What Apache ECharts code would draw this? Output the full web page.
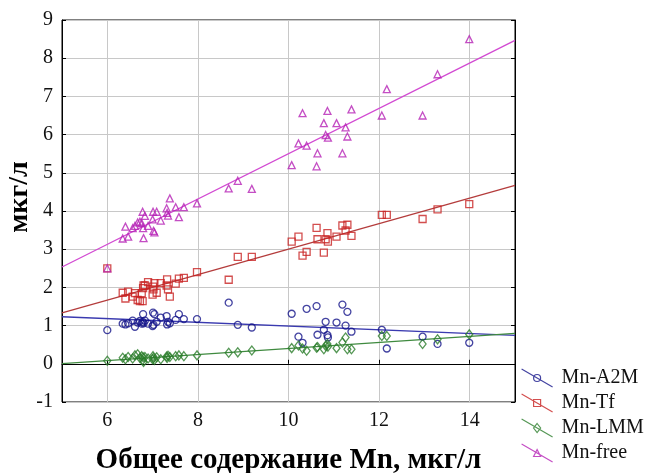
<!DOCTYPE html>
<html><head><meta charset="utf-8">
<script src="https://cdn.jsdelivr.net/npm/echarts@6/dist/echarts.min.js"></script>
<style>html,body{margin:0;padding:0;background:#fff}#c{width:650px;height:473px}</style>
</head><body><div id="c"></div>
<script>
// Total Mn (x), per sample
const totalMn = [6.00,6.34,6.40,6.46,6.56,6.61,6.67,6.72,6.76,6.78,6.79,6.80,6.83,6.90,7.00,7.01,7.02,7.04,7.09,7.18,7.31,7.32,7.34,7.38,7.51,7.58,7.69,7.98,
  8.68,8.88,9.19,10.07,10.22,10.31,10.40,10.62,10.64,10.78,10.82,10.86,10.87,11.06,11.19,11.26,11.30,11.39,12.06,12.17,12.96,13.29,13.99];
const mnA2M = [0.88,1.05,1.03,1.06,1.13,0.97,1.08,1.12,1.05,1.10,1.30,1.06,1.13,1.05,0.99,1.34,1.02,1.30,1.10,1.21,1.25,1.03,1.10,1.06,1.15,1.30,1.17,1.17,
  1.60,1.02,0.95,1.31,0.71,0.55,1.44,1.51,0.76,0.89,1.10,0.75,0.69,1.08,1.55,1.00,1.36,0.84,0.89,0.40,0.71,0.52,0.55];
const mnTf = [2.50,1.86,1.71,1.89,1.76,1.85,1.67,1.64,1.85,1.64,1.98,2.05,2.05,2.14,1.81,2.02,1.95,2.11,1.86,2.11,2.05,2.21,1.95,1.76,2.10,2.23,2.25,2.40,
  2.20,2.80,2.80,3.20,3.33,2.83,2.93,3.56,3.26,2.91,3.26,3.42,3.20,3.33,3.62,3.49,3.64,3.35,3.90,3.90,3.79,4.04,4.18];
const mnLMM = [0.08,0.16,0.12,0.18,0.14,0.22,0.25,0.15,0.20,0.10,0.17,0.05,0.18,0.14,0.12,0.20,0.15,0.10,0.17,0.12,0.19,0.15,0.21,0.18,0.20,0.22,0.20,0.22,
  0.29,0.30,0.35,0.41,0.48,0.40,0.34,0.42,0.44,0.38,0.47,0.52,0.45,0.41,0.56,0.69,0.38,0.38,0.73,0.73,0.52,0.64,0.77];
const mnFree = [2.50,3.28,3.59,3.33,3.55,3.61,3.70,3.72,3.68,3.98,3.55,3.29,3.87,3.61,3.78,3.98,3.48,3.44,3.98,3.75,4.07,3.95,3.88,4.33,4.10,3.84,4.10,4.20,
  4.59,4.79,4.58,5.20,5.77,6.56,5.71,5.17,5.51,6.30,5.99,6.62,5.92,6.30,5.51,6.19,5.95,6.66,6.50,7.19,6.50,7.58,8.50];

const seriesNames = ['Mn-A2M','Mn-Tf','Mn-LMM','Mn-free'];
const xTickValues = [6,8,10,12,14];
const xRange = [5,15];
const yRange = [-1,9];
const xTitle = 'Общее содержание Mn, мкг/л';
const yTitle = 'мкг/л';

const FONT = "'Liberation Serif','Times New Roman',serif";
const ys = [mnA2M, mnTf, mnLMM, mnFree];
const markerColors = ['#14148a','#c82222','#2a7d2a','#b522b5'];
const lineColors = ['#3a3ab0','#b43c3c','#3f8a3f','#d24ad2'];
const symbols = ['circle','rect','diamond','triangle'];
const symSizes = [7,7,[7,9],7];
const iconShapes = [
  'M19,9A3.5,3.5,0,1,1,12,9A3.5,3.5,0,1,1,19,9Z',
  'M12,5.5L19,5.5L19,12.5L12,12.5Z',
  'M15.5,4.5L19,9L15.5,13.5L12,9Z',
  'M15.5,5.5L19,12.5L12,12.5Z'
];

function fit(xs, yv) {
  const n = xs.length;
  let sx=0, sy=0; for (let i=0;i<n;i++){sx+=xs[i];sy+=yv[i];}
  const mx=sx/n, my=sy/n;
  let sxy=0,sxx=0; for (let i=0;i<n;i++){sxy+=(xs[i]-mx)*(yv[i]-my);sxx+=(xs[i]-mx)*(xs[i]-mx);}
  const b=sxy/sxx, a=my-b*mx;
  return [[xRange[0], a+b*xRange[0]],[xRange[1], a+b*xRange[1]]];
}

const series = [];
ys.forEach((yv, k) => {
  series.push({
    name: 'fit ' + seriesNames[k], type: 'line', data: fit(totalMn, yv),
    showSymbol: false, silent: true, z: 2,
    lineStyle: { color: lineColors[k], width: 1.3 }
  });
});
ys.forEach((yv, k) => {
  series.push({
    name: seriesNames[k], type: 'scatter', z: 3,
    data: totalMn.map((x, i) => [x, yv[i]]),
    symbol: symbols[k], symbolSize: symSizes[k],
    itemStyle: { color: 'rgba(255,255,255,0)', borderColor: markerColors[k], borderWidth: 1.3 }
  });
});

const chart = echarts.init(document.getElementById('c'), null, { renderer: 'canvas' });
chart.setOption({
  animation: false,
  backgroundColor: '#fff',
  grid: { left: 62, right: 135, top: 20, bottom: 71, show: true, borderColor: '#000', borderWidth: 1,
    containLabel: false, outerBoundsMode: 'none' },
  xAxis: {
    type: 'value', min: xRange[0], max: xRange[1],
    axisLine: { show: true, lineStyle: { color: '#000', width: 1 } },
    axisTick: { show: true, inside: true, length: 4, customValues: xTickValues, lineStyle: { color: '#000' } },
    axisLabel: { customValues: xTickValues, fontFamily: FONT, fontSize: 20, color: '#111', margin: 9 },
    splitLine: { show: true, lineStyle: { color: '#c8c8c8', width: 1 } },
    name: xTitle, nameLocation: 'middle', nameGap: 44,
    nameTextStyle: { fontFamily: FONT, fontWeight: 'bold', fontSize: 29, color: '#000' }
  },
  yAxis: [{
    type: 'value', min: yRange[0], max: yRange[1], interval: 1,
    axisLine: { show: true, lineStyle: { color: '#000', width: 1 } },
    axisTick: { show: true, inside: true, length: 4, lineStyle: { color: '#000' } },
    axisLabel: { fontFamily: FONT, fontSize: 20, color: '#111', margin: 9 },
    splitLine: { show: true, lineStyle: { color: '#c8c8c8', width: 1 } }
  }, {
    type: 'value', min: yRange[0], max: yRange[1], interval: 1, position: 'right',
    axisLine: { show: true, lineStyle: { color: '#000', width: 1 } },
    axisTick: { show: true, inside: true, length: 4, lineStyle: { color: '#000' } },
    axisLabel: { show: false }, splitLine: { show: false }
  }],
  legend: {
    orient: 'vertical', left: 521, top: 368, padding: 0, itemWidth: 31, itemHeight: 18, itemGap: 5,
    selectedMode: false,
    textStyle: { fontFamily: FONT, fontSize: 20, color: '#111', padding: [0,0,0,4] },
    itemStyle: { borderWidth: 1.2 },
    data: seriesNames.map((n, k) => ({
      name: n,
      icon: 'path://M0,0L31,18' + iconShapes[k],
      itemStyle: { color: 'rgba(255,255,255,0)', borderColor: markerColors[k], borderWidth: 1.2 }
    }))
  },
  graphic: [{
    type: 'text', x: 20, y: 197, rotation: Math.PI / 2,
    style: { text: yTitle, font: "bold 28px 'Liberation Serif','Times New Roman',serif", fill: '#000', align: 'center', verticalAlign: 'middle' }
  }],
  series: series
});
</script></body></html>
